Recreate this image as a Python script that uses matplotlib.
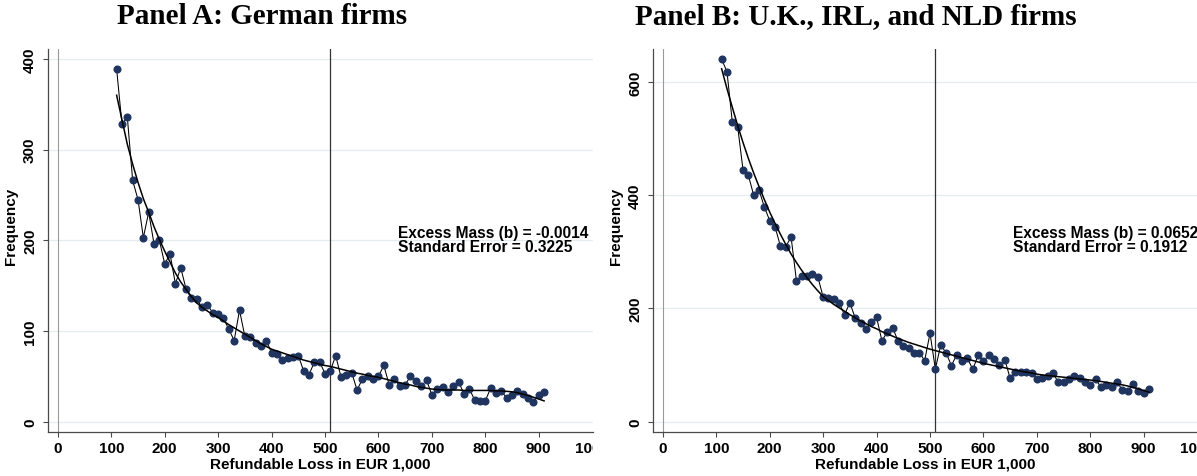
import matplotlib
matplotlib.use('Agg')
import matplotlib.pyplot as plt
from matplotlib.transforms import Bbox, TransformedBbox

plt.rcParams['font.family'] = ['Liberation Sans', 'DejaVu Sans']

# bins (refundable loss, EUR 1,000)
bins = list(range(110, 911, 10))

# Panel A: German firms
freq_de = [389, 328, 336, 266, 245, 203, 231, 196, 200, 174,
           185, 152, 170, 146, 136, 135, 126, 129, 120, 119,
           114, 102, 89.5, 123, 94, 93, 87, 83, 89.5, 76,
           75, 68, 70, 71, 73, 56, 52, 65.5, 66, 53,
           56, 73, 49, 51, 54, 35, 47, 50, 47, 50,
           62, 41, 47, 39, 41, 50, 45, 39, 46, 29.5,
           36, 38, 33, 39, 44, 31, 36.5, 24, 23, 23,
           37, 32, 34, 26, 29.5, 33.5, 31, 26.5, 22, 29.5,
           33]
fit_de = [360, 333, 306, 284, 264, 246, 231, 215, 201, 188,
          176, 164, 154, 146, 138, 131, 126, 122, 118, 115,
          111, 107, 103.5, 100, 96.5, 93, 89.5, 86, 83, 80,
          78, 76, 74, 72, 70, 68, 66.5, 65, 63.5, 62,
          61, 59.5, 58, 56.5, 55, 53.5, 52.5, 51, 50, 49,
          47.5, 46, 44.5, 43, 41.5, 40.5, 39, 38, 37, 36,
          35.5, 35, 35, 35, 35, 34.5, 34.5, 34.5, 34.5, 34.5,
          34.5, 34, 34, 33.5, 33, 32, 30.5, 29, 27, 25,
          23]

# Panel B: U.K., IRL, and NLD firms
freq_uk = [640, 618, 529, 521, 445, 435, 400, 409, 379, 355,
           344, 310, 309, 326, 249, 257, 257, 261, 256, 220,
           218, 217, 209, 189, 210, 183, 174, 163, 176, 184,
           143, 158, 166, 143, 133, 130, 121, 122, 108, 156,
           93, 135, 122, 99, 118, 107, 112, 92.5, 117, 107,
           117, 111, 99.5, 109.5, 76.5, 88.5, 88, 87, 86.5, 75,
           77, 80, 86.5, 69.5, 69.5, 76, 80.5, 77, 70, 65,
           75.5, 60.5, 65.5, 60.5, 69.5, 56.5, 53.5, 66.5, 55, 50.5,
           57.5]
fit_uk = [623, 588, 555, 523, 493, 465, 439, 415, 392, 370,
          350, 331, 313, 296, 281, 267, 254, 242, 231, 221,
          214, 207, 201, 195, 189, 183.5, 178, 173, 168, 164,
          159, 155, 151, 147, 143.5, 140, 137, 134, 131, 128,
          125.5, 123, 120.5, 118, 115.5, 113, 110.5, 108, 105.5, 103,
          101, 99, 97, 95, 93, 91, 89, 87.5, 86, 84,
          82.5, 81.5, 80.5, 79.5, 78.5, 77.5, 76.5, 75.5, 74.5, 73.5,
          72.5, 71, 69.5, 68, 66.5, 65, 63, 60.5, 58, 55,
          52]

xticks = [0, 100, 200, 300, 400, 500, 600, 700, 800, 900, 1000]
yticks_de = [0, 100, 200, 300, 400]
yticks_uk = [0, 200, 400, 600]
cutoff = 510

W, H = 1197, 477
fig = plt.figure(figsize=(W / 100, H / 100), dpi=100)
fig.patch.set_facecolor('white')

panels = [
    (47.7, freq_de, fit_de, yticks_de, (-11, 411), (637, 201), 'Excess Mass (b) = -0.0014\nStandard Error = 0.3225',
     'Panel A: German firms', 262),
    (652.7, freq_uk, fit_uk, yticks_uk, (-17.7, 658), (656, 322), 'Excess Mass (b) = 0.0652\nStandard Error = 0.1912',
     'Panel B: U.K., IRL, and NLD firms', 856),
]

for left, freq, fit, yt, ylim, txy, txt, title, tcx in panels:
    ax = fig.add_axes([left / W, 1 - 432.7 / H, 545 / W, (432.7 - 50) / H])
    ax.set_xlim(-19, 1001)
    ax.set_ylim(*ylim)
    for s in ['top', 'right']:
        ax.spines[s].set_visible(False)
    for s in ['left', 'bottom']:
        ax.spines[s].set_color('#4a4a4a')
        ax.spines[s].set_linewidth(0.9)
    ax.set_yticks(yt)
    ax.set_xticks(xticks)
    ax.grid(axis='y', color='#e4ecef', linewidth=0.9)
    ax.set_axisbelow(True)
    ax.tick_params(direction='out', length=3.6, width=0.8, color='#4a4a4a',
                   labelsize=11)
    ax.tick_params(axis='x', pad=3)
    ax.tick_params(axis='y', pad=4)
    for lab in ax.get_yticklabels():
        lab.set_rotation(90)
        lab.set_va('center')
        lab.set_fontweight('bold')
    for lab in ax.get_xticklabels():
        lab.set_fontweight('bold')

    ax.axvline(0, color='#9a9a9a', linewidth=0.8, zorder=1)
    ax.axvline(cutoff, color='#333333', linewidth=0.9, zorder=2)

    ax.plot(bins, freq, color='black', linewidth=0.75, marker='o', markersize=4.8,
            markerfacecolor='#1f3560', markeredgecolor='#1f3560', zorder=3)
    ax.plot(bins, fit, color='black', linewidth=1.1, zorder=4)

    ax.text(txy[0], txy[1], txt, fontsize=11.2, fontweight='bold', ha='left', va='center',
            linespacing=0.95, clip_on=True)

    ax.set_xlabel('Refundable Loss in EUR 1,000', fontsize=11, fontweight='bold', labelpad=1)
    ax.set_ylabel('Frequency', fontsize=11, fontweight='bold')
    ax.yaxis.set_label_coords(-0.054, 0.538)

    fig.text(tcx / W, 1 - 17 / H, title, ha='center', va='center',
             fontsize=21, fontweight='bold', family=['Liberation Serif', 'DejaVu Serif'])

    # the "1000" tick label is cut off at the right edge of each panel
    right_px = left + 545
    clip = TransformedBbox(Bbox([[0, 0], [right_px / W, 1]]), fig.transFigure)
    ticks = ax.xaxis.get_major_ticks()
    for t in ticks:
        t.label1.set_clip_box(clip)
        t.label1.set_clip_on(True)
    ticks[-1].tick1line.set_visible(False)

fig.savefig('out.png', dpi=100, facecolor='white')
